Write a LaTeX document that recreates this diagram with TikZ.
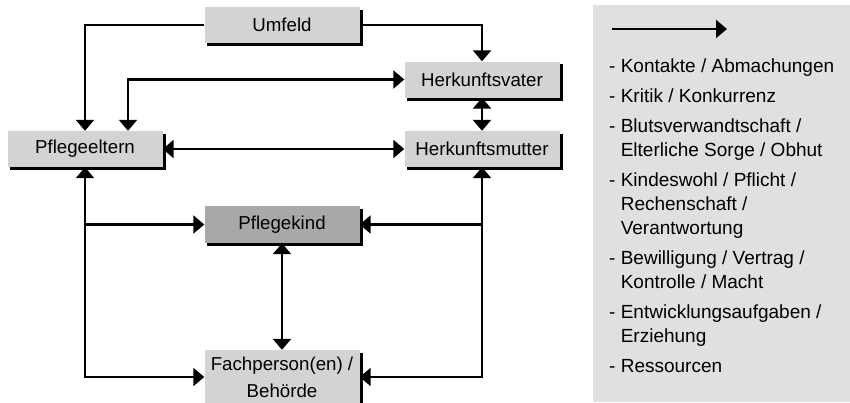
\documentclass[tikz,border=0pt]{standalone}
\usepackage{fontspec}
\setmainfont{Liberation Sans}
\usetikzlibrary{arrows.meta}
\pgfdeclarelayer{background}
\pgfsetlayers{background,main}
\definecolor{boxgray}{HTML}{D3D3D3}
\definecolor{kindgray}{HTML}{A8A8A8}
\definecolor{legendgray}{HTML}{E0E0E0}
\begin{document}
\begin{tikzpicture}[x=1pt, y=-1pt, >={Triangle[width=18pt,length=11pt]},
 graynode/.style={rectangle, fill=boxgray, inner sep=0pt, minimum width=155pt, minimum height=36pt,
   font=\fontsize{18.7}{27}\selectfont, align=center},
 kindnode/.style={graynode, fill=kindgray},
 link/.style={line width=2.4pt, black}, ]
                \useasboundingbox (0,0) rectangle (850,402);

                \node[graynode] (umfeld) at (282,25) {Umfeld};
                \node[graynode] (hvater) at (482,79.5) {Herkunftsvater};
                \node[graynode] (hmutter) [below of=hvater, node distance=69.5pt] {Herkunftsmutter};
                \node[graynode] (pelt) at (85,149) {Pflegeeltern};
                \node[kindnode, minimum height=37pt] (pkind) at (282,224.5) {Pflegekind};
                \node[graynode, minimum height=54pt] (fach) [below of=pkind, node distance=152.5pt] {Fachperson(en) /\\Behörde};

                % shadows behind the boxes
                \begin{pgfonlayer}{background}
                  \foreach \n in {umfeld,hvater,hmutter,pelt,pkind,fach}
                    \fill[black] ([shift={(3pt,-3pt)}]\n.south west) rectangle ([shift={(3pt,-3pt)}]\n.north east);
                \end{pgfonlayer}

                \draw[link,->] (umfeld.west) -| (pelt.north);
                \draw[link,->] (umfeld.east) -| (hvater.north);
                \draw[link,<->] (hvater.west) -| ([xshift=43pt]pelt.north);
                \draw[link,<->] (hvater.south) -- (hmutter.north);
                \draw[link,<->] (pelt.east) -- (hmutter.west);
                \draw[link,<->] (pkind.south) -- (fach.north);
                \draw[link,<->] (pelt.south) |- (fach.west);
                \draw[link,->] (pelt.south |- pkind.west) -- (pkind.west);
                \draw[link,<->] (hmutter.south) |- (fach.east);
                \draw[link,->] (hmutter.south |- pkind.east) -- (pkind.east);

                % legend
                \node[fill=legendgray, minimum width=257pt, minimum height=397pt, inner sep=0pt, anchor=north west] (legend) at (593,5) {};
                \coordinate (la) at (612,29);
                \coordinate (lb) at (727,29);
                \draw[link,->] (la) -- (lb);
                \node[anchor=base west, inner sep=0pt, align=left, font=\fontsize{19}{24}\selectfont] (items) at (609,372)
                  {- Kontakte / Abmachungen\\[6pt]
                   - Kritik / Konkurrenz\\[6pt]
                   - Blutsverwandtschaft /\\\hspace*{.61em}Elterliche Sorge / Obhut\\[6pt]
                   - Kindeswohl / Pflicht /\\\hspace*{.61em}Rechenschaft /\\\hspace*{.61em}Verantwortung\\[6pt]
                   - Bewilligung / Vertrag /\\\hspace*{.61em}Kontrolle / Macht\\[6pt]
                   - Entwicklungsaufgaben /\\\hspace*{.61em}Erziehung\\[6pt]
                   - Ressourcen};
\end{tikzpicture}
\end{document}
